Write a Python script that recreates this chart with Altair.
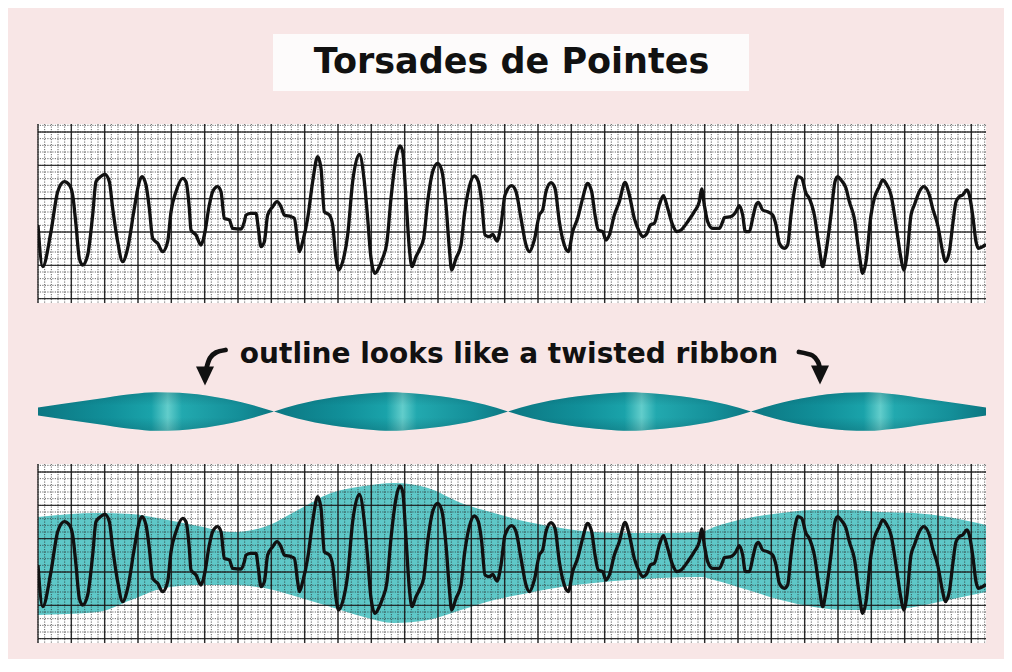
import altair as alt
import pandas as pd

# ---------------- data ----------------
TITLE = "Torsades de Pointes"
NOTE = "outline looks like a twisted ribbon"

# ECG trace: (time in ms, amplitude in microvolts)
ECG_POINTS = [
    (0, 105), (28, -520), (78, 5), (118, 605), (158, 755), (188, 705), (208, 555), (228, 105),
    (248, -395), (268, -495), (298, -345), (328, 255), (348, 755), (368, 815), (402, 865), (428, 755),
    (448, 355), (478, -145), (508, -445), (538, -245), (578, 355), (608, 755), (624, 830), (648, 705),
    (668, 355), (688, -95), (718, -170), (748, -295), (778, -145), (798, 305), (828, 605), (868, 805),
    (888, 755), (908, 355), (918, 30), (948, -45), (978, -195), (998, -45), (1028, 405), (1048, 605),
    (1078, 680), (1098, 605), (1118, 205), (1148, 180), (1168, 55), (1218, 45), (1238, 155), (1248, 255),
    (1278, 280), (1308, 280), (1322, 55), (1338, -220), (1358, -145), (1378, 255), (1408, 380), (1434, 455),
    (1458, 380), (1478, 255), (1518, 230), (1538, 205), (1558, -145), (1568, -295), (1588, -145), (1618, 205),
    (1648, 755), (1678, 1130), (1698, 955), (1718, 305), (1748, 255), (1768, 105), (1788, -395), (1804, -570),
    (1828, -445), (1858, -45), (1888, 755), (1928, 1165), (1958, 755), (1978, 205), (1998, -395), (2022, -620),
    (2048, -520), (2068, -395), (2094, -145), (2118, 505), (2148, 1105), (2172, 1290), (2188, 1205), (2208, 505),
    (2228, -245), (2244, -520), (2268, -370), (2288, -270), (2314, -95), (2338, 455), (2368, 905), (2398, 1030),
    (2422, 930), (2448, 405), (2468, -245), (2482, -570), (2508, -395), (2538, -195), (2558, 255), (2588, 680),
    (2618, 840), (2642, 755), (2662, 455), (2682, -45), (2708, -70), (2728, -35), (2754, -135), (2778, 105),
    (2802, 555), (2842, 695), (2868, 605), (2898, 205), (2928, -195), (2948, -295), (2978, -120), (3008, 255),
    (3028, 330), (3048, 605), (3078, 740), (3102, 655), (3128, 155), (3158, -195), (3182, -295), (3208, 5),
    (3238, 205), (3268, 505), (3298, 730), (3322, 605), (3342, 255), (3362, 30), (3388, 5), (3408, -120),
    (3428, -45), (3458, 255), (3488, 455), (3522, 745), (3548, 555), (3578, 205), (3608, 5), (3628, -70),
    (3654, -20), (3674, 105), (3698, 130), (3728, 405), (3752, 545), (3778, 355), (3808, 105), (3834, 5),
    (3858, 30), (3898, 155), (3938, 305), (3968, 455), (3982, 645), (3998, 405), (4018, 155), (4048, 55),
    (4088, 55), (4108, 155), (4118, 215), (4158, 230), (4188, 305), (4208, 395), (4228, 255), (4244, 5),
    (4268, 5), (4288, 205), (4308, 405), (4322, 445), (4348, 330), (4378, 305), (4408, 255), (4428, 105),
    (4448, -170), (4478, -245), (4498, -195), (4518, 255), (4544, 705), (4558, 830), (4582, 805), (4608, 580),
    (4628, 505), (4658, 255), (4688, -245), (4708, -520), (4728, -295), (4758, 255), (4782, 755), (4798, 830),
    (4818, 780), (4848, 655), (4868, 455), (4898, 205), (4928, -345), (4948, -620), (4968, -445), (4998, 255),
    (5018, 505), (5048, 680), (5068, 780), (5088, 730), (5118, 555), (5148, 105), (5178, -395), (5194, -570),
    (5214, -345), (5238, 255), (5258, 405), (5288, 605), (5314, 680), (5348, 555), (5368, 355), (5398, 105),
    (5428, -295), (5444, -445), (5468, -295), (5488, 105), (5508, 455), (5528, 530), (5548, 555), (5574, 630),
    (5588, 555), (5608, 255), (5628, -145), (5642, -245), (5668, -220), (5688, -185),
]

# cyan outline (envelope) of the lower strip
ENV_T_MS = [0, 360, 558, 756, 960, 1158, 1356, 1560, 1758, 1956, 2136, 2340, 2538, 2736, 2940,
            3138, 3336, 3540, 3738, 3978, 4056, 4260, 4458, 4656, 4860, 5058, 5256, 5460, 5688]
ENV_TOP_UV = [825, 885, 870, 790, 690, 600, 675, 930, 1185, 1290, 1335, 1260, 1035, 885, 750,
              660, 600, 585, 585, 600, 675, 810, 885, 930, 930, 900, 885, 825, 705]
ENV_BOT_UV = [-645, -600, -420, -240, -195, -195, -240, -375, -525, -675, -765, -720, -570, -420, -315,
              -225, -165, -120, -90, -75, -120, -270, -420, -525, -570, -570, -525, -420, -300]

# twisted ribbon: node times and half-width profile of each lobe
RIB_NODES_MS = [0, 1416, 2820, 4278, 5688]
RIB_FRAC = [0, 0.1, 0.25, 0.4, 0.5, 0.6, 0.75, 0.9, 1]
RIB_HALF = [
    [4, 7.5, 12.5, 17.5, 19.3, 18.7, 14.5, 7, 0],
    [0, 7, 14, 18, 19.3, 18, 14, 7, 0],
    [0, 7, 14, 18, 19.3, 18, 14, 7, 0],
    [0, 7, 14.5, 18.7, 19.3, 17.5, 12.5, 7.5, 4],
]

# ---------------- tables ----------------
ecg_df = pd.DataFrame(ECG_POINTS, columns=["t", "v"])
env_df = pd.DataFrame({"t": ENV_T_MS, "top": ENV_TOP_UV, "bot": ENV_BOT_UV})
rib_rows = []
for k, half in enumerate(RIB_HALF):
    t0, t1 = RIB_NODES_MS[k], RIB_NODES_MS[k + 1]
    for f, h in zip(RIB_FRAC, half):
        rib_rows.append({"lobe": k, "t": t0 + f * (t1 - t0), "hi": h, "lo": -h})
rib_df = pd.DataFrame(rib_rows)

# ---------------- layout / style ----------------
W = 948
TITLE_H, STRIP_H, MID_H = 116, 179, 161
BG = "#f8e6e6"
INK = "#111111"

xs = alt.Scale(domain=[0, 5688], nice=False, zero=False)
ys = alt.Scale(domain=[-1065, 1620], nice=False, zero=False)
ms = alt.Scale(domain=[-52.5, 108.5], nice=False, zero=False)

X = alt.X("t:Q", scale=xs, axis=None)


def grid():
    minor_v = alt.Chart(alt.sequence(0, 5689, 40, as_="t")).mark_rule(
        color="#2a2a2a", strokeWidth=0.9, strokeDash=[1.2, 1.3], opacity=0.8
    ).encode(x=X)
    minor_h = alt.Chart(alt.sequence(-1000, 1601, 100, as_="v")).mark_rule(
        color="#2a2a2a", strokeWidth=0.9, strokeDash=[1.2, 1.3], opacity=0.8
    ).encode(y=alt.Y("v:Q", scale=ys, axis=None))
    major_v = alt.Chart(alt.sequence(0, 5689, 200, as_="t")).mark_rule(
        color="#1a1a1a", strokeWidth=1.4, opacity=0.9
    ).encode(x=X)
    major_h = alt.Chart(alt.sequence(-1000, 1501, 500, as_="v")).mark_rule(
        color="#1a1a1a", strokeWidth=1.3, opacity=0.85
    ).encode(y=alt.Y("v:Q", scale=ys, axis=None))
    return [minor_v, minor_h, major_v, major_h]


ecg_line = alt.Chart(ecg_df).mark_line(
    color=INK, strokeWidth=3.3, interpolate="monotone", strokeJoin="round", clip=True
).encode(x=X, y=alt.Y("v:Q", scale=ys, axis=None))

env_area = alt.Chart(env_df).mark_area(
    color="#5ec8c8", interpolate="monotone", clip=True
).encode(x=X, y=alt.Y("top:Q", scale=ys, axis=None), y2="bot:Q")

strip_view = alt.ViewBackground(fill="white", strokeWidth=0)

top_panel = alt.layer(*grid(), ecg_line).properties(width=W, height=STRIP_H, view=strip_view)
bot_panel = alt.layer(env_area, *grid(), ecg_line).properties(width=W, height=STRIP_H, view=strip_view)

# title panel
one = pd.DataFrame({"label": [TITLE]})
title_box = alt.Chart(one).mark_rect(color="#fdfbfb").encode(
    x=alt.value(235), x2=alt.value(711), y=alt.value(26), y2=alt.value(83)
)
title_text = alt.Chart(one).mark_text(
    font="DejaVu Sans", fontWeight="bold", fontSize=35, color=INK, align="center", baseline="alphabetic"
).encode(x=alt.value(473.5), y=alt.value(64.5), text="label:N")
title_panel = alt.layer(title_box, title_text).properties(width=W, height=TITLE_H)

# middle panel: annotation, arrows, ribbon
ribbon_grad = alt.Gradient(
    gradient="linear", x1=0, x2=1, y1=0, y2=0,
    stops=[
        alt.GradientStop(color="#0c7782", offset=0),
        alt.GradientStop(color="#11909a", offset=0.3),
        alt.GradientStop(color="#1aa3aa", offset=0.48),
        alt.GradientStop(color="#62cdcb", offset=0.55),
        alt.GradientStop(color="#22a9af", offset=0.61),
        alt.GradientStop(color="#148f99", offset=0.85),
        alt.GradientStop(color="#0c7782", offset=1),
    ],
)
shade_grad = alt.Gradient(
    gradient="linear", x1=0, x2=0, y1=0, y2=1,
    stops=[
        alt.GradientStop(color="rgba(0,50,60,0.22)", offset=0),
        alt.GradientStop(color="rgba(0,50,60,0)", offset=0.35),
        alt.GradientStop(color="rgba(0,50,60,0)", offset=0.65),
        alt.GradientStop(color="rgba(0,50,60,0.22)", offset=1),
    ],
)
rib_enc = dict(
    x=X,
    y=alt.Y("hi:Q", scale=ms, axis=None),
    y2="lo:Q",
    detail="lobe:N",
)
ribbon = alt.Chart(rib_df).mark_area(color=ribbon_grad, interpolate="monotone").encode(**rib_enc)
ribbon_shade = alt.Chart(rib_df).mark_area(color=shade_grad, interpolate="monotone").encode(**rib_enc)

note = alt.Chart(pd.DataFrame({"label": [NOTE]})).mark_text(
    font="DejaVu Sans", fontWeight="bold", fontSize=28, color=INK, align="center", baseline="alphabetic"
).encode(x=alt.value(471), y=alt.value(60), text="label:N")

ARROW_PATH = pd.DataFrame({
    "arrow": ["L", "L", "L", "L", "R", "R", "R", "R"],
    "i": [0, 1, 2, 3, 0, 1, 2, 3],
    "px": [187.5, 178, 172, 168.5, 761, 774.5, 780, 781.5],
    "py": [47, 49.5, 55, 65, 49, 52.5, 59, 64],
})
ARROW_HEAD = pd.DataFrame({"arrow": ["L", "R"], "px": [167, 782], "py": [73, 72]})

arrow_lines = alt.Chart(ARROW_PATH).mark_line(
    color=INK, strokeWidth=4.8, interpolate="cardinal", strokeCap="round"
).encode(
    x=alt.X("px:Q", scale=None), y=alt.Y("py:Q", scale=None), detail="arrow:N", order="i:Q"
)
arrow_heads = alt.Chart(ARROW_HEAD).mark_point(
    shape="M-1,-1.05L1,-1.05L0,1.05Z", filled=True, size=324, color=INK, opacity=1
).encode(x=alt.X("px:Q", scale=None), y=alt.Y("py:Q", scale=None))

mid_panel = alt.layer(ribbon, ribbon_shade, note, arrow_lines, arrow_heads).properties(width=W, height=MID_H)

chart = alt.vconcat(
    title_panel, top_panel, mid_panel, bot_panel, spacing=0, bounds="flush"
).resolve_scale(x="independent", y="independent").properties(
    padding={"left": 29, "top": 0, "right": 17, "bottom": 15},
    background=BG,
).configure_view(strokeWidth=0)

chart.save("out.html", embed_options={"renderer": "svg", "actions": False})
